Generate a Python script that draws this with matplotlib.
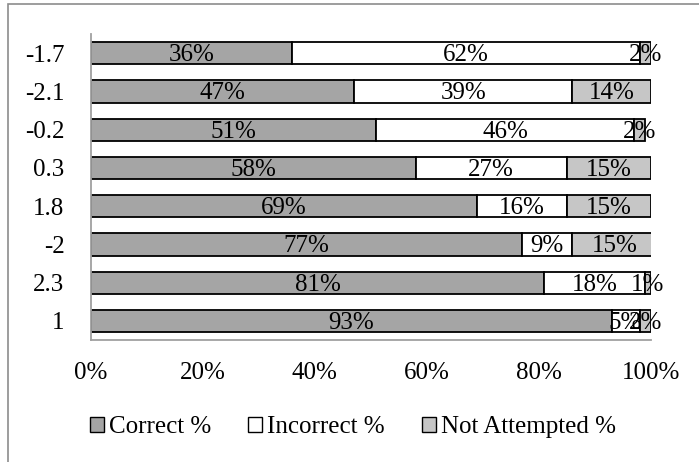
import numpy as np
import matplotlib.pyplot as plt
from matplotlib.patches import Rectangle

categories = ['-1.7', '-2.1', '-0.2', '0.3', '1.8', '-2', '2.3', '1']
correct = [36, 47, 51, 58, 69, 77, 81, 93]
incorrect = [62, 39, 46, 27, 16, 9, 18, 5]
not_attempted = [2, 14, 2, 15, 15, 15, 1, 2]

plt.rcParams['font.family'] = ['Liberation Serif', 'DejaVu Serif']
fs = 18

fig = plt.figure(figsize=(6.99, 4.62), dpi=100)
ax = fig.add_axes([0.130, 0.264, 0.801, 0.662])

# gray frame round the chart
fig.patches.append(Rectangle((0.0118, -0.05), 1.2, 1.05 - 0.0087, transform=fig.transFigure,
                             fill=False, edgecolor='#8c8c8c', linewidth=1.2))

y = np.arange(len(categories))[::-1]
series = [('Correct %', correct, '#a5a5a5'),
          ('Incorrect %', incorrect, '#ffffff'),
          ('Not Attempted %', not_attempted, '#c6c6c6')]

left = np.zeros(len(categories))
for name, vals, col in series:
    vals = np.array(vals, dtype=float)
    ax.barh(y, vals, left=left, height=0.58, color=col, edgecolor='black',
            linewidth=1.3, label=name)
    for yi, l, v in zip(y, left, vals):
        ax.text(l + v / 2, yi - 0.05, '%d%%' % v, ha='center', va='center',
                fontsize=fs)
    left += vals

ax.set_xlim(0, 100)
ax.set_ylim(-0.5, len(categories) - 0.5)
ax.set_yticks(y)
ax.set_yticklabels(categories)
ax.set_xticks(np.arange(0, 101, 20))
ax.set_xticklabels(['%d%%' % t for t in range(0, 101, 20)])
ax.tick_params(axis='both', length=0, labelsize=fs)
ax.tick_params(axis='x', pad=16)
ax.tick_params(axis='y', pad=19)
for s in ['top', 'right']:
    ax.spines[s].set_visible(False)
for s in ['left', 'bottom']:
    ax.spines[s].set_color('#a0a0a0')
    ax.spines[s].set_linewidth(1.3)

leg = fig.legend(loc='center', bbox_to_anchor=(0.505, 0.076), ncol=3, frameon=False,
                 fontsize=fs, handlelength=0.55, handleheight=0.55,
                 handletextpad=0.2, columnspacing=1.5)
for h in leg.legend_handles:
    h.set_linewidth(1.0)

fig.savefig('out.png', dpi=100)
